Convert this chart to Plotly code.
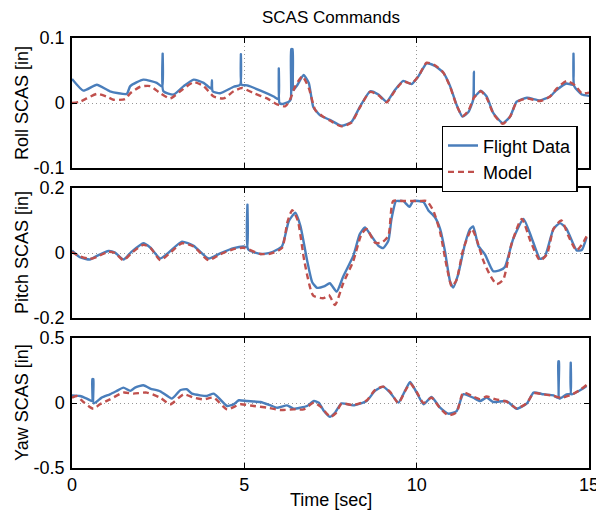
import plotly.graph_objects as go

# ---------------- data ----------------
roll_fd_t = [0, 0.33, 0.72, 1.1, 1.59, 1.69, 2.07, 2.46, 2.62, 2.63, 2.65, 2.95, 3.24, 3.53, 3.82, 4.04, 4.06, 4.08,
             4.3, 4.69, 4.88, 4.90, 4.92, 5.08, 5.47, 5.85, 5.99, 6.00, 6.02, 6.09, 6.29, 6.35, 6.36, 6.40, 6.42,
             6.53, 6.72, 6.87, 7.0, 7.2, 7.48, 7.82, 8.11, 8.35, 8.65, 8.89, 9.13, 9.37, 9.61, 9.85, 10.05, 10.29,
             10.53, 10.77, 10.97, 11.16, 11.33, 11.5, 11.64, 11.66, 11.68, 11.86, 12.03, 12.23, 12.5, 12.71, 12.9,
             13.2, 13.58, 13.87, 14.06, 14.35, 14.53, 14.55, 14.57, 14.79, 15.0]
roll_fd_v = [0.037, 0.019, 0.028, 0.018, 0.014, 0.026, 0.036, 0.031, 0.025, 0.076, 0.018, 0.013, 0.026, 0.036, 0.031,
             0.022, 0.035, 0.018, 0.015, 0.025, 0.028, 0.075, 0.028, 0.027, 0.019, 0.010, 0.006, 0.053, 0.000,
             -0.0016, 0.002, 0.006, 0.083, 0.083, 0.020, 0.027, 0.043, 0.031, -0.006, -0.019, -0.026, -0.035,
             -0.029, -0.006, 0.018, 0.013, 0.002, 0.020, 0.034, 0.029, 0.041, 0.061, 0.057, 0.047, 0.026, -0.003,
             -0.021, -0.014, 0.005, 0.048, 0.010, 0.019, 0.010, -0.016, -0.031, -0.021, 0.002, 0.008, 0.004, 0.010,
             0.020, 0.030, 0.028, 0.076, 0.026, 0.013, 0.011]

roll_md_t = [0, 0.23, 0.43, 0.72, 1.0, 1.2, 1.54, 1.69, 1.98, 2.27, 2.56, 2.85, 3.14, 3.53, 3.82, 4.11, 4.4, 4.69,
             4.93, 5.27, 5.66, 5.95, 6.19, 6.34, 6.48, 6.68, 6.87, 7.06, 7.26, 7.48, 7.82, 8.11, 8.35, 8.65, 8.89,
             9.13, 9.37, 9.61, 9.85, 10.05, 10.29, 10.53, 10.77, 10.97, 11.16, 11.33, 11.5, 11.66, 11.86, 12.03,
             12.23, 12.5, 12.71, 12.9, 13.2, 13.58, 13.87, 14.06, 14.35, 14.6, 14.79, 15.0]
roll_md_v = [0, 0.002, 0.007, 0.014, 0.010, 0.005, 0.006, 0.015, 0.025, 0.026, 0.015, 0.007, 0.018, 0.032, 0.026,
             0.010, 0.007, 0.018, 0.023, 0.015, 0.007, -0.002, -0.005, 0.007, 0.026, 0.041, 0.023, -0.011, -0.020,
             -0.027, -0.036, -0.030, -0.007, 0.017, 0.012, 0.001, 0.019, 0.033, 0.030, 0.041, 0.062, 0.058, 0.047,
             0.025, -0.004, -0.020, -0.012, 0.008, 0.018, 0.008, -0.017, -0.032, -0.021, 0.001, 0.007, 0.003,
             0.010, 0.022, 0.034, 0.027, 0.015, 0.016]

pitch_fd_t = [0, 0.23, 0.52, 0.72, 1.06, 1.25, 1.49, 1.73, 2.07, 2.27, 2.56, 2.8, 3.19, 3.53, 3.96, 4.3, 4.69, 4.98,
              5.08, 5.09, 5.11, 5.47, 5.76, 6.09, 6.29, 6.48, 6.63, 6.82, 6.97, 7.11, 7.31, 7.48, 7.68, 7.87, 8.16,
              8.35, 8.5, 8.65, 8.89, 9.03, 9.18, 9.27, 9.4, 9.5, 9.61, 9.79, 9.9, 10.05, 10.2, 10.34, 10.53, 10.68,
              10.82, 10.97, 11.06, 11.2, 11.4, 11.55, 11.64, 11.79, 11.98, 12.22, 12.42, 12.56, 12.8, 13.1, 13.33,
              13.58, 13.72, 13.97, 14.16, 14.35, 14.64, 14.79, 14.93]
pitch_fd_v = [0.007, -0.013, -0.020, -0.009, 0.006, 0.001, -0.020, 0.004, 0.030, 0.017, -0.017, 0.001, 0.035, 0.022,
              -0.017, -0.001, 0.015, 0.020, 0.018, 0.149, 0.011, -0.003, 0.001, 0.020, 0.098, 0.124, 0.082, -0.022,
              -0.090, -0.107, -0.103, -0.093, -0.119, -0.072, -0.009, 0.058, 0.079, 0.058, 0.022, 0.015, 0.038,
              0.105, 0.160, 0.160, 0.160, 0.142, 0.160, 0.160, 0.157, 0.131, 0.110, 0.074, 0.006, -0.088, -0.106,
              -0.067, 0.027, 0.074, 0.082, 0.022, -0.004, -0.056, -0.053, -0.043, 0.043, 0.105, 0.048, -0.018,
              -0.011, 0.074, 0.092, 0.074, 0.008, 0.009, 0.048]

pitch_md_t = [0, 0.23, 0.52, 0.72, 1.06, 1.25, 1.49, 1.73, 2.07, 2.27, 2.56, 2.8, 3.19, 3.53, 3.96, 4.3, 4.69, 4.98,
              5.47, 5.76, 6.09, 6.25, 6.39, 6.55, 6.75, 7.0, 7.3, 7.45, 7.63, 7.87, 8.16, 8.4, 8.55, 8.79, 8.99,
              9.18, 9.32, 9.6, 9.9, 10.1, 10.29, 10.48, 10.68, 10.87, 11.02, 11.16, 11.35, 11.6, 11.74, 11.94, 12.15,
              12.32, 12.51, 12.75, 13.05, 13.3, 13.58, 13.78, 13.97, 14.2, 14.4, 14.64, 14.83, 14.93]
pitch_md_v = [0.003, -0.010, -0.018, -0.012, 0.004, 0.000, -0.022, 0.000, 0.025, 0.017, -0.022, -0.004, 0.030,
              0.020, -0.022, -0.004, 0.012, 0.016, -0.003, -0.002, 0.015, 0.095, 0.132, 0.100, -0.030, -0.131,
              -0.139, -0.129, -0.160, -0.093, -0.025, 0.058, 0.074, 0.032, 0.032, 0.053, 0.160, 0.160, 0.160, 0.160,
              0.160, 0.131, 0.064, -0.041, -0.103, -0.082, 0.011, 0.074, 0.042, -0.025, -0.072, -0.096, -0.082,
              0.027, 0.105, 0.037, -0.023, -0.004, 0.074, 0.100, 0.053, 0.008, 0.032, 0.051]

yaw_fd_t = [0, 0.23, 0.43, 0.58, 0.59, 0.62, 0.63, 0.86, 1.1, 1.3, 1.49, 1.69, 1.83, 2.07, 2.27, 2.56, 2.9, 3.14,
            3.33, 3.48, 3.72, 3.91, 4.11, 4.25, 4.5, 4.69, 4.84, 5.08, 5.47, 5.76, 5.95, 6.24, 6.43, 6.63, 6.82,
            7.02, 7.16, 7.31, 7.48, 7.63, 7.82, 8.16, 8.55, 8.79, 9.03, 9.23, 9.47, 9.66, 9.81, 10.0, 10.2, 10.43,
            10.68, 10.92, 11.16, 11.35, 11.64, 11.84, 12.03, 12.22, 12.61, 12.9, 13.2, 13.39, 13.68, 13.97, 14.1,
            14.11, 14.13, 14.14, 14.35, 14.46, 14.47, 14.49, 14.74, 14.93]
yaw_fd_v = [0.059, 0.054, 0.034, 0.015, 0.183, 0.183, -0.003, 0.041, 0.067, 0.093, 0.118, 0.093, 0.118, 0.137,
            0.111, 0.090, 0.034, 0.098, 0.106, 0.072, 0.059, 0.054, 0.072, 0.041, -0.023, -0.010, 0.021, 0.015,
            0.008, -0.018, -0.036, -0.018, -0.044, -0.036, -0.023, 0.015, 0.003, -0.062, -0.106, -0.075, -0.003,
            -0.018, 0.015, 0.093, 0.126, 0.080, 0.003, 0.093, 0.162, 0.080, -0.010, 0.046, -0.036, -0.082, -0.062,
            0.067, 0.041, 0.015, 0.041, 0.008, 0.015, -0.044, -0.003, 0.080, 0.067, 0.059, 0.040, 0.320, 0.320,
            0.034, 0.067, 0.070, 0.310, 0.067, 0.098, 0.131]

yaw_md_t = [0, 0.13, 0.33, 0.62, 0.81, 1.1, 1.49, 1.78, 2.17, 2.56, 2.85, 3.24, 3.53, 3.82, 4.11, 4.5, 4.88, 5.27,
            5.66, 6.05, 6.43, 6.72, 7.02, 7.21, 7.5, 7.65, 7.82, 8.16, 8.55, 8.79, 9.03, 9.23, 9.47, 9.66, 9.81,
            10.0, 10.2, 10.43, 10.68, 10.92, 11.16, 11.35, 11.64, 11.84, 12.03, 12.3, 12.61, 12.9, 13.2, 13.39,
            13.68, 13.97, 14.2, 14.5, 14.74, 14.93]
yaw_md_v = [0.041, 0.054, 0.008, -0.044, -0.010, 0.028, 0.080, 0.072, 0.080, 0.041, -0.010, 0.067, 0.041, 0.028,
            0.041, -0.049, -0.010, -0.023, -0.036, -0.054, -0.049, -0.049, 0.003, -0.028, -0.106, -0.080, -0.005,
            -0.015, 0.020, 0.100, 0.126, 0.085, 0.000, 0.090, 0.150, 0.085, 0.000, 0.040, -0.040, -0.095, -0.070,
            0.080, 0.050, 0.030, 0.050, 0.028, 0.010, -0.040, 0.000, 0.075, 0.067, 0.055, 0.040, 0.065, 0.100,
            0.139]

panel_titles = ["Roll SCAS [in]", "Pitch SCAS [in]", "Yaw SCAS [in]"]
panel_ticks = [[-0.1, 0, 0.1], [-0.2, 0, 0.2], [-0.5, 0, 0.5]]
panel_ticktext = [["-0.1", "0", "0.1"], ["-0.2", "0", "0.2"], ["-0.5", "0", "0.5"]]
x_ticks = [0, 5, 10, 15]
series_names = ["Flight Data", "Model"]
title_text = "SCAS Commands"
x_title = "Time [sec]"

# ---------------- style ----------------
BLUE = "rgb(74,126,187)"
RED = "rgb(192,80,77)"
FONT = "Liberation Sans, Arial, sans-serif"
FS = 18
W, H = 596, 512
ML, MR, MT, MB = 72, 7, 38, 44
ph = H - MT - MB  # 430
panels_px = [(38, 168), (188, 318), (338, 468)]

fig = go.Figure()

fd = [(roll_fd_t, roll_fd_v), (pitch_fd_t, pitch_fd_v), (yaw_fd_t, yaw_fd_v)]
md = [(roll_md_t, roll_md_v), (pitch_md_t, pitch_md_v), (yaw_md_t, yaw_md_v)]

for i in range(3):
    xa = "x" if i == 0 else f"x{i+1}"
    ya = "y" if i == 0 else f"y{i+1}"
    fig.add_trace(go.Scatter(x=fd[i][0], y=fd[i][1], mode="lines", name=series_names[0],
                             line=dict(color=BLUE, width=2.4, shape="spline", smoothing=0.5),
                             xaxis=xa, yaxis=ya, showlegend=(i == 0), legendrank=1))
    fig.add_trace(go.Scatter(x=md[i][0], y=md[i][1], mode="lines", name=series_names[1],
                             line=dict(color=RED, width=2.4, dash="6px,4px", shape="spline", smoothing=0.6),
                             xaxis=xa, yaxis=ya, showlegend=(i == 0), legendrank=2))

layout = dict(
    width=W, height=H,
    margin=dict(l=ML, r=MR, t=MT, b=MB, pad=0, autoexpand=False),
    paper_bgcolor="white", plot_bgcolor="white",
    font=dict(family=FONT, size=FS, color="black"),
    showlegend=True,
    legend=dict(x=(441.7 - ML) / (W - ML - MR), y=(H - MB - 126) / ph, xanchor="left", yanchor="top",
                bgcolor="white", bordercolor="black", borderwidth=1.3,
                font=dict(family=FONT, size=FS, color="black"),
                tracegroupgap=0, itemwidth=30),
)

axis_common = dict(showline=True, linecolor="black", linewidth=1.5, mirror="ticks",
                   ticks="inside", ticklen=5, tickwidth=1, tickcolor="black", automargin=False,
                   showgrid=True, gridcolor="rgb(150,150,150)", griddash="1px,3px", gridwidth=1,
                   zeroline=False, tickfont=dict(family=FONT, size=FS, color="black"))

annotations = []
for i in range(3):
    top, bot = panels_px[i]
    d0 = (H - MB - bot) / ph
    d1 = (H - MB - top) / ph
    xk = "xaxis" if i == 0 else f"xaxis{i+1}"
    yk = "yaxis" if i == 0 else f"yaxis{i+1}"
    xa = "x" if i == 0 else f"x{i+1}"
    ya = "y" if i == 0 else f"y{i+1}"
    layout[xk] = dict(axis_common, domain=[0, 1], range=[0, 15], tickvals=x_ticks,
                      ticktext=[str(v) for v in x_ticks], showticklabels=(i == 2), anchor=ya,
                      ticklabeloverflow="allow")
    layout[yk] = dict(axis_common, domain=[d0, d1], range=[panel_ticks[i][0], panel_ticks[i][2]],
                      tickvals=panel_ticks[i], ticktext=panel_ticktext[i], anchor=xa, ticklabelstandoff=2)
    annotations.append(dict(text=panel_titles[i], xref="paper", yref="paper",
                            x=-(ML - 22) / (W - ML - MR), y=(d0 + d1) / 2, xanchor="center", yanchor="middle",
                            textangle=-90, showarrow=False, font=dict(family=FONT, size=FS, color="black")))

annotations.append(dict(text=title_text, xref="paper", yref="paper", x=0.5, y=(H - MB - 17) / ph,
                        xanchor="center", yanchor="middle", showarrow=False,
                        font=dict(family=FONT, size=FS - 1, color="black")))
annotations.append(dict(text=x_title, xref="paper", yref="paper", x=0.5, y=(H - MB - 500) / ph,
                        xanchor="center", yanchor="middle", showarrow=False,
                        font=dict(family=FONT, size=FS, color="black")))
layout["annotations"] = annotations

fig.update_layout(**layout)
fig.write_html("out.html")
